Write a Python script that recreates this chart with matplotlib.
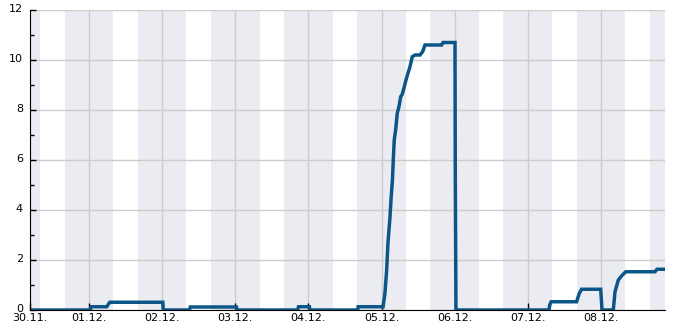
import matplotlib
matplotlib.use("Agg")
import matplotlib.pyplot as plt
import matplotlib.transforms as mtransforms
import pandas as pd
from matplotlib.ticker import MultipleLocator

# time series (step-like values)
times = [
    "2023-11-30 04:40", "2023-12-01 00:30", "2023-12-01 00:45", "2023-12-01 05:50",
    "2023-12-01 06:50", "2023-12-02 00:15", "2023-12-02 00:25", "2023-12-02 09:00",
    "2023-12-02 09:15", "2023-12-03 00:25", "2023-12-03 00:35", "2023-12-03 20:30",
    "2023-12-03 20:45", "2023-12-04 00:20", "2023-12-04 00:30", "2023-12-04 16:10",
    "2023-12-04 16:20", "2023-12-05 00:30", "2023-12-05 01:08", "2023-12-05 01:41",
    "2023-12-05 02:07", "2023-12-05 02:46", "2023-12-05 03:06", "2023-12-05 03:35",
    "2023-12-05 03:51", "2023-12-05 04:10", "2023-12-05 04:38", "2023-12-05 05:10",
    "2023-12-05 05:43", "2023-12-05 06:17", "2023-12-05 06:48", "2023-12-05 07:28",
    "2023-12-05 08:01", "2023-12-05 08:34", "2023-12-05 09:20", "2023-12-05 10:05",
    "2023-12-05 10:58", "2023-12-05 12:36", "2023-12-05 13:29", "2023-12-05 14:15",
    "2023-12-05 19:43", "2023-12-05 20:10", "2023-12-06 00:06", "2023-12-06 00:12",
    "2023-12-06 00:25", "2023-12-07 06:56", "2023-12-07 07:10", "2023-12-07 07:40",
    "2023-12-07 16:00", "2023-12-07 16:50", "2023-12-07 17:37", "2023-12-07 23:54",
    "2023-12-08 00:20", "2023-12-08 04:02", "2023-12-08 04:36", "2023-12-08 05:41",
    "2023-12-08 06:48", "2023-12-08 08:06", "2023-12-08 17:44", "2023-12-08 18:23",
    "2023-12-08 21:00",
]
values = [
    0, 0, 0.13, 0.13,
    0.31, 0.31, 0, 0,
    0.12, 0.12, 0, 0,
    0.13, 0.13, 0, 0,
    0.13, 0.13, 0.68, 1.6,
    2.7, 3.7, 4.4, 5.2,
    6.0, 6.8, 7.2, 7.88,
    8.13, 8.53, 8.63, 8.93,
    9.2, 9.43, 9.73, 10.13,
    10.2, 10.2, 10.33, 10.6,
    10.6, 10.7, 10.7, 5.3,
    0, 0, 0.2, 0.33,
    0.33, 0.65, 0.83, 0.83,
    0, 0, 0.73, 1.2,
    1.37, 1.53, 1.53, 1.63,
    1.63,
]

day_ticks = ["2023-12-01", "2023-12-02", "2023-12-03", "2023-12-04",
             "2023-12-05", "2023-12-06", "2023-12-07", "2023-12-08"]
day_labels = ["01.12.", "02.12.", "03.12.", "04.12.", "05.12.", "06.12.", "07.12.", "08.12."]
start_label = "30.11."

# night shading (16:00 -> 08:00)
nights = ["2023-11-29", "2023-11-30", "2023-12-01", "2023-12-02", "2023-12-03",
          "2023-12-04", "2023-12-05", "2023-12-06", "2023-12-07", "2023-12-08"]

t = pd.to_datetime(times)
x_start, x_end = t[0], t[-1]

fig = plt.figure(figsize=(6.85, 3.3), dpi=100)
ax = fig.add_axes([30 / 685, 20 / 330, 635 / 685, 300 / 330])

for n in nights:
    d = pd.Timestamp(n)
    ax.axvspan(d + pd.Timedelta(hours=16), d + pd.Timedelta(hours=32),
               color="#ebecf1", lw=0, zorder=0)

ax.plot(t, values, color="#0b5686", lw=2.5, zorder=3, solid_joinstyle="miter")

ax.set_xlim(x_start, x_end)
ax.set_ylim(0, 12)

xt = [x_start] + list(pd.to_datetime(day_ticks))
ax.set_xticks(xt)
ax.set_xticklabels([start_label] + day_labels)
ax.yaxis.set_major_locator(MultipleLocator(2))
ax.yaxis.set_minor_locator(MultipleLocator(1))

ax.grid(True, color="#cccccc", lw=1, zorder=1)
ax.set_axisbelow(True)

for s in ["top", "right"]:
    ax.spines[s].set_visible(False)
ax.spines["left"].set_zorder(4)
ax.spines["bottom"].set_zorder(4)

ax.tick_params(axis="x", direction="in", length=5, width=1, labelsize=8, pad=2)
ax.tick_params(axis="y", which="major", direction="in", length=4, width=1, labelsize=8, pad=5)
ax.tick_params(axis="y", which="minor", direction="in", length=3, width=1)

# y labels sit a little above their gridline
shift = mtransforms.ScaledTranslation(0, 2 / 100, fig.dpi_scale_trans)
for lbl in ax.get_yticklabels():
    lbl.set_transform(lbl.get_transform() + shift)

fig.savefig("out.png", dpi=100)
